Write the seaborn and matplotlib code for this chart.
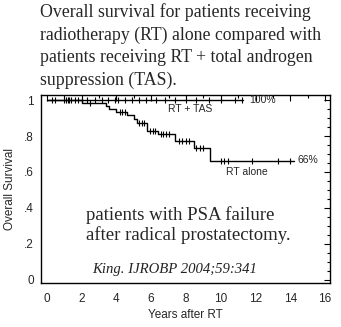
import numpy as np
import pandas as pd
import matplotlib
matplotlib.use("Agg")
import matplotlib.pyplot as plt
import seaborn as sns
from matplotlib.ticker import MultipleLocator, FixedLocator

# ---- data ----
rt_alone_time = [0, 2.0, 3.4, 3.6, 4.0, 4.6, 5.0, 5.2, 5.75, 6.4, 7.4, 8.45, 9.4, 14.2]
rt_alone_surv = [1.0, 0.985, 0.968, 0.948, 0.933, 0.915, 0.894, 0.874, 0.828, 0.809, 0.772, 0.731, 0.661, 0.661]
rt_tas_time = [0, 11.3]
rt_tas_surv = [1.0, 1.0]
rt_tas_censor = [0.3, 0.5, 1.0, 1.1, 1.2, 1.3, 1.4, 1.6, 1.8, 2.0, 2.3, 2.8, 3.2, 3.5,
                 3.9, 4.1, 4.5, 4.9, 5.3, 5.7, 6.3, 6.8, 7.4, 8.0, 8.6, 9.3, 10.0, 10.8, 11.2]
rt_alone_censor = [2.5, 4.2, 4.35, 4.5, 5.3, 5.45, 5.6, 5.95, 6.1, 6.25, 6.55, 6.7, 6.85,
                   7.0, 7.6, 7.8, 8.0, 8.2, 8.6, 8.8, 9.0, 10.0, 10.2, 10.4, 11.8, 13.3, 14.0]
y_ticks = [0, 0.2, 0.4, 0.6, 0.8, 1.0]
y_ticklabels = ["0", ".2", ".4", ".6", ".8", "1"]
x_ticks = [0, 2, 4, 6, 8, 10, 12, 14, 16]

title = ("Overall survival for patients receiving\n"
         "radiotherapy (RT) alone compared with\n"
         "patients receiving RT + total androgen\n"
         "suppression (TAS).")

def step_value(t, times, surv):
    idx = np.searchsorted(times, t, side="right") - 1
    return surv[idx]

sns.set_style("white")
plt.rcParams["font.family"] = ["Liberation Sans", "DejaVu Sans"]

fig = plt.figure(figsize=(3.41, 3.27), dpi=100)
ax = fig.add_axes([0.1202, 0.1346, 0.8475, 0.5749])

df_alone = pd.DataFrame({"t": rt_alone_time, "s": rt_alone_surv})
df_tas = pd.DataFrame({"t": rt_tas_time, "s": rt_tas_surv})
sns.lineplot(data=df_tas, x="t", y="s", drawstyle="steps-post", color="black", lw=1.0, ax=ax)
sns.lineplot(data=df_alone, x="t", y="s", drawstyle="steps-post", color="black", lw=1.0, ax=ax)

cen_tas = pd.DataFrame({"t": rt_tas_censor,
                        "s": [step_value(t, rt_tas_time, rt_tas_surv) for t in rt_tas_censor]})
cen_alone = pd.DataFrame({"t": rt_alone_censor,
                          "s": [step_value(t, rt_alone_time, rt_alone_surv) for t in rt_alone_censor]})
for d in (cen_tas, cen_alone):
    sns.scatterplot(data=d, x="t", y="s", marker="|", s=22, color="black", linewidth=0.8, ax=ax)

ax.set_xlim(-0.33, 16.28)
ax.set_ylim(-0.017, 1.028)
ax.xaxis.set_major_locator(FixedLocator(x_ticks))
ax.xaxis.set_minor_locator(MultipleLocator(1))
ax.yaxis.set_major_locator(FixedLocator(y_ticks))
ax.yaxis.set_minor_locator(MultipleLocator(0.05))
ax.set_yticklabels(y_ticklabels)
ax.tick_params(which="both", direction="in", top=True, right=True, color="black",
               labelsize=8.5)
ax.tick_params(axis="x", pad=7)
ax.tick_params(axis="y", pad=5)
ax.tick_params(which="major", length=4, width=0.8)
ax.tick_params(which="minor", length=2, width=0.8)
for sp in ax.spines.values():
    sp.set_color("black")
    sp.set_linewidth(1.0)
ax.set_xlabel("Years after RT", fontsize=8.5, labelpad=3)
ax.set_ylabel("Overall Survival", fontsize=8.5, labelpad=6)

ax.text(8.24, 0.95, "RT + TAS", fontsize=7.5, ha="center", va="center")
ax.text(11.65, 1.0, "100%", fontsize=7.5, ha="left", va="center")
ax.text(14.39, 0.665, "66%", fontsize=7.5, ha="left", va="center")
ax.text(11.5, 0.602, "RT alone", fontsize=7.5, ha="center", va="center")
serif = ["Liberation Serif", "DejaVu Serif"]
ax.text(2.26, 0.361, "patients with PSA failure", fontsize=13.5, family=serif, ha="left", va="center")
ax.text(2.26, 0.25, "after radical prostatectomy.", fontsize=13.5, family=serif, ha="left", va="center")
ax.text(2.6, 0.056, "King. IJROBP 2004;59:341", fontsize=10.6, family=serif, style="italic",
        color="#222222", ha="left", va="center")

fig.text(0.117, 0.99, title, fontsize=12.8, family=serif, ha="left", va="top", linespacing=1.4)

fig.savefig("out.png", dpi=100)
